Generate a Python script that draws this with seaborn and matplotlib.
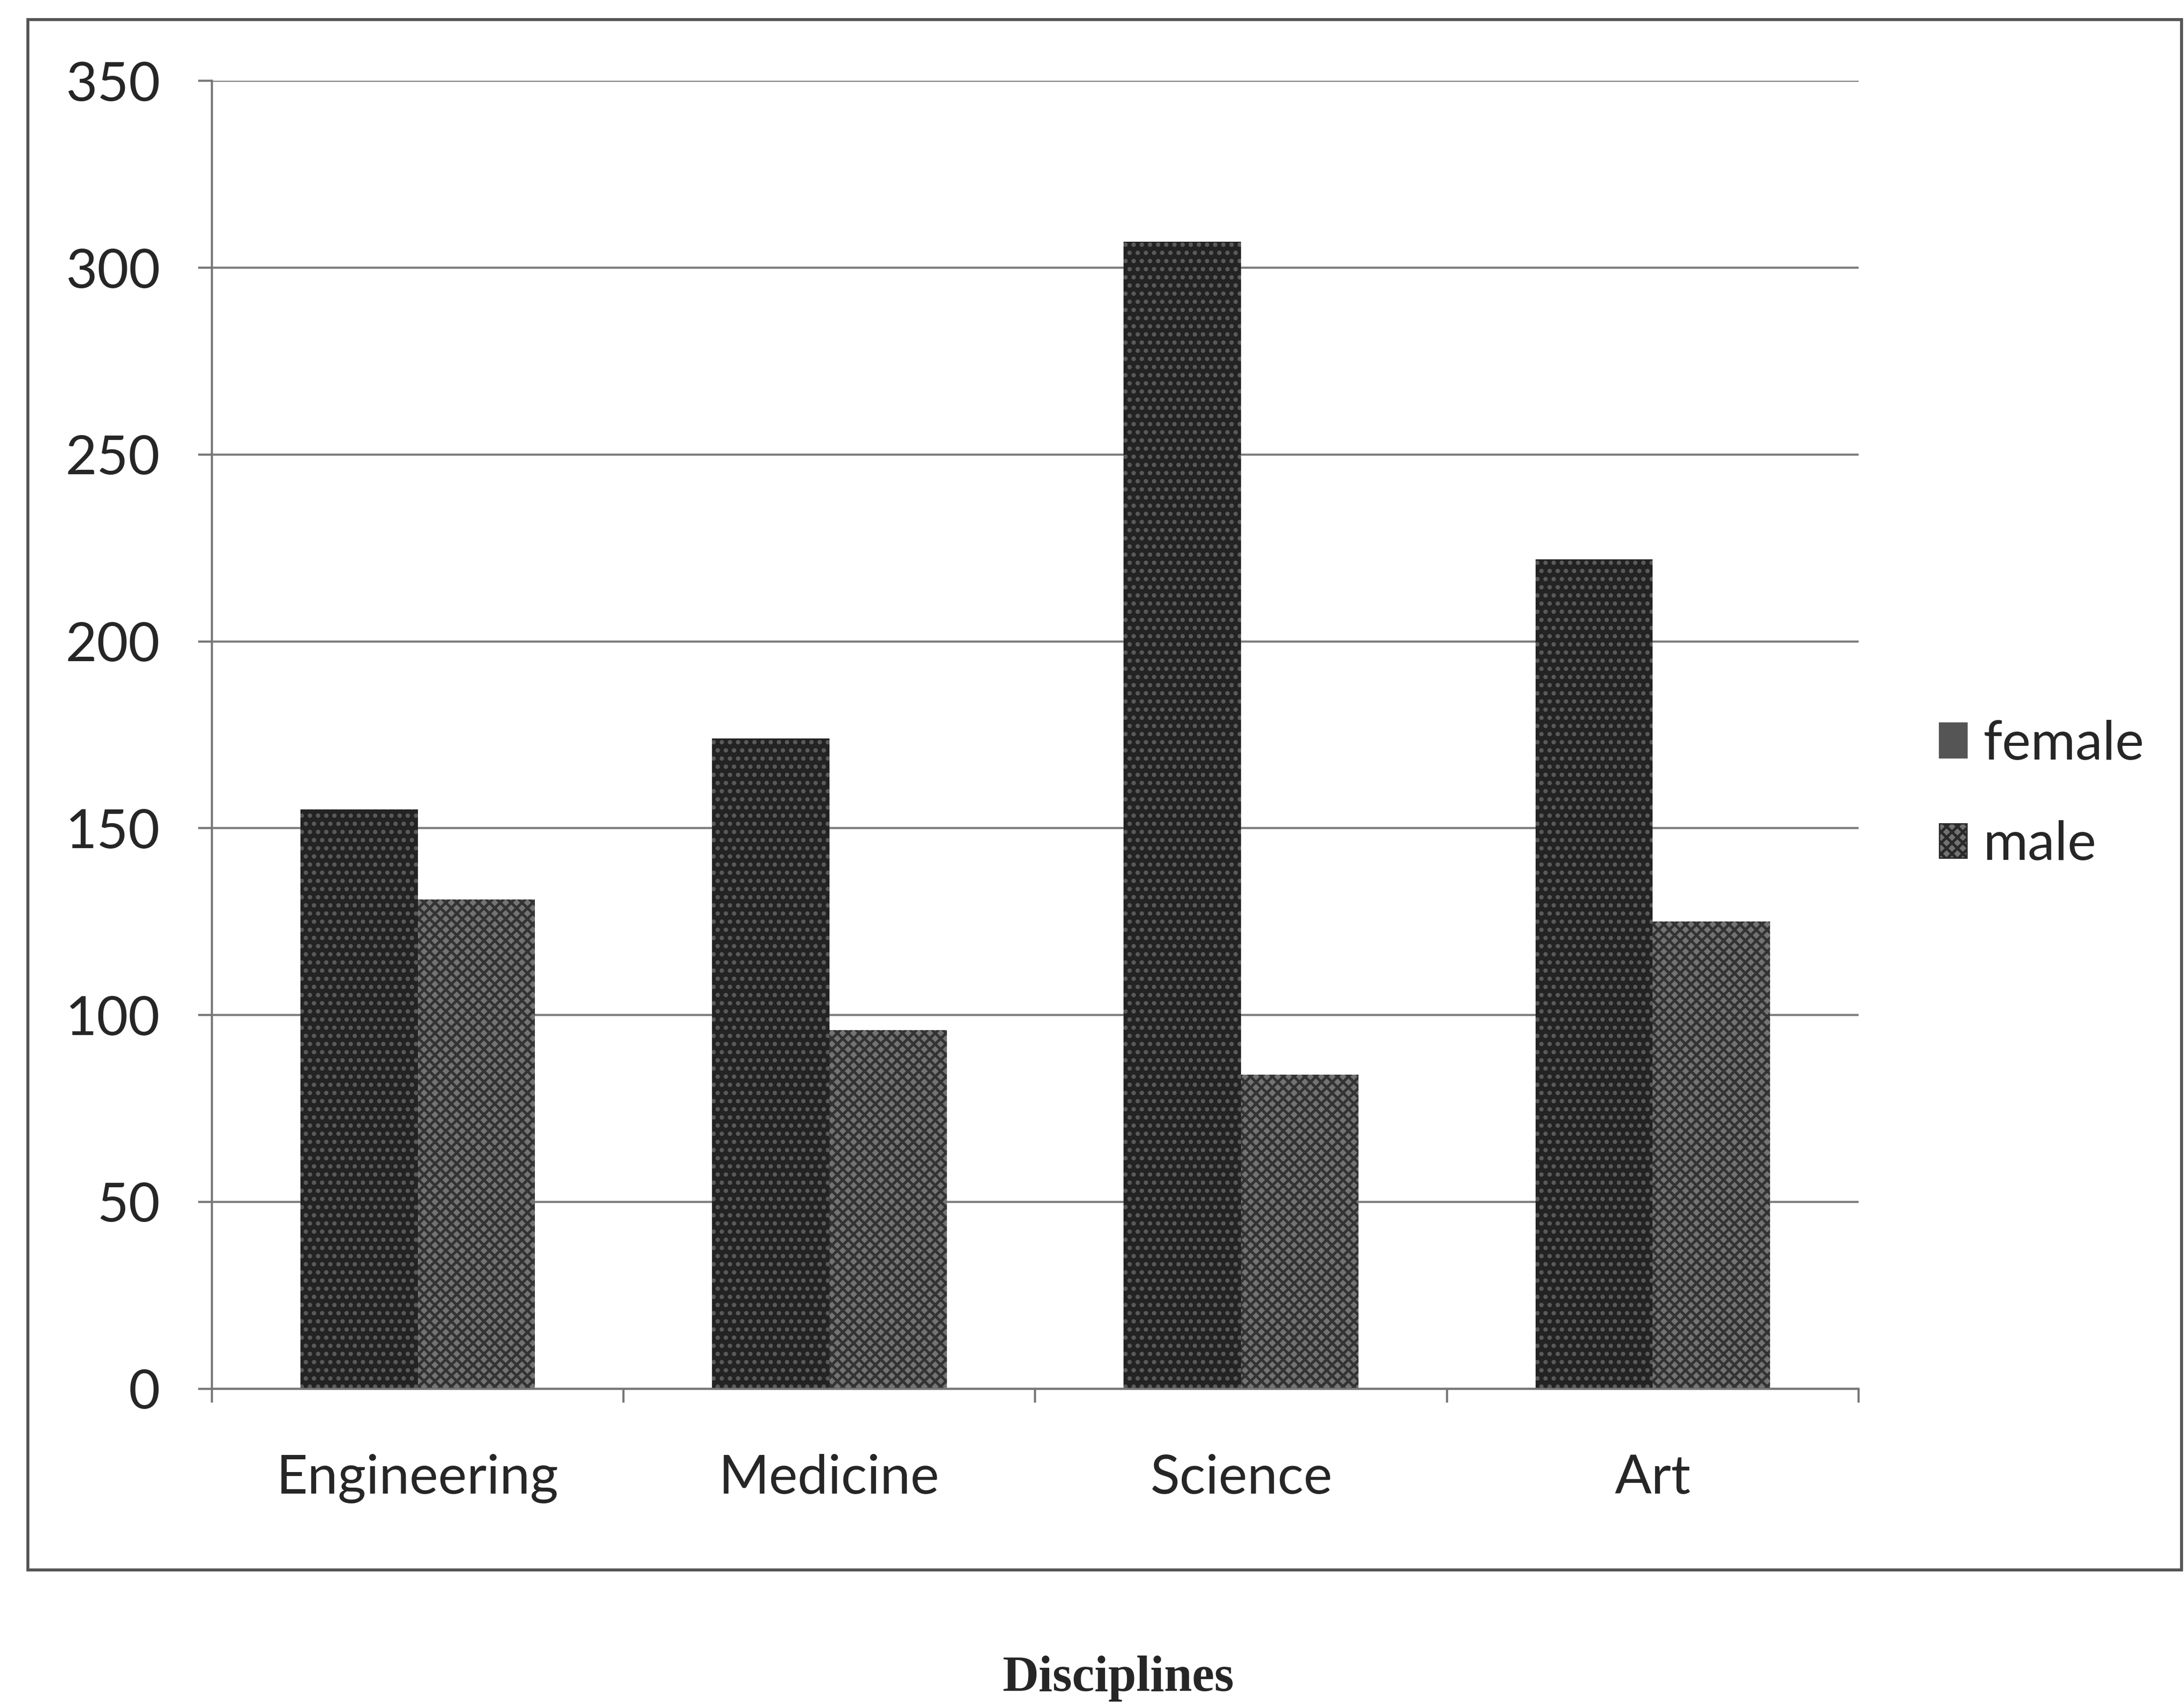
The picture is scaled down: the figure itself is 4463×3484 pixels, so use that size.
import numpy as np
import pandas as pd
import matplotlib
matplotlib.use("Agg")
import matplotlib.pyplot as plt
import seaborn as sns
from matplotlib.patches import Patch, Rectangle

# data
disciplines = ["Engineering", "Medicine", "Science", "Art"]
female = [155, 174, 307, 222]
male = [131, 96, 84, 125]
y_ticks = [0, 50, 100, 150, 200, 250, 300, 350]

df = pd.DataFrame({
    "discipline": disciplines * 2,
    "count": female + male,
    "sex": ["female"] * len(disciplines) + ["male"] * len(disciplines),
})

sns.set_style("white")
plt.rcParams["font.family"] = ["Lato", "DejaVu Sans"]
plt.rcParams["hatch.linewidth"] = 2.0

fig = plt.figure(figsize=(22.315, 17.42), dpi=200)
ax = fig.add_axes([0.097, 0.1855, 0.754, 0.767])

sns.barplot(data=df, x="discipline", y="count", hue="sex",
            palette=["#232323", "#737373"], width=0.57, gap=0,
            legend=False, ax=ax, linewidth=0)

# textures similar to the printed fills
for bar in ax.containers[0]:
    bar.set_hatch("..")
    bar.set_edgecolor("#5a5a5a")
for bar in ax.containers[1]:
    bar.set_hatch("xxx")
    bar.set_edgecolor("#333333")

ax.set_ylim(0, 350)
ax.set_xlim(-0.5, 3.5)
ax.set_yticks(y_ticks)
ax.yaxis.grid(True, color="#7d7d7d", linewidth=1.6)
ax.set_axisbelow(True)

for side in ["top", "right"]:
    ax.spines[side].set_visible(False)
ax.spines["left"].set_color("#777777")
ax.spines["bottom"].set_color("#777777")
ax.spines["left"].set_linewidth(1.6)
ax.spines["bottom"].set_linewidth(1.6)

ax.set_xlabel("")
ax.set_ylabel("")
ax.tick_params(axis="y", which="major", length=10, width=1.6, color="#777777",
               labelsize=40, pad=28, left=True)
ax.tick_params(axis="x", which="major", length=0, labelsize=40, pad=48)
ax.set_xticks(np.arange(-0.5, 4.0, 1.0), minor=True)
ax.tick_params(axis="x", which="minor", length=10, width=1.6, color="#777777",
               bottom=True)

handles = [
    Patch(facecolor="#555555", edgecolor="#555555", label="female"),
    Patch(facecolor="#737373", edgecolor="#2a2a2a", hatch="xxx", label="male"),
]
fig.legend(handles=handles, loc="center left", bbox_to_anchor=(0.888, 0.534),
           frameon=False, fontsize=40, handlelength=0.5, handleheight=0.6,
           handletextpad=0.3, labelspacing=0.95, borderaxespad=0,
           borderpad=0)

# outer chart frame
fig.patches.append(Rectangle((0.0128, 0.0792), 0.986, 0.9094,
                             transform=fig.transFigure, fill=False,
                             edgecolor="#555555", linewidth=2.2))

fig.text(0.512, 0.002, "Disciplines", ha="center", va="bottom",
         fontsize=37, fontweight="bold", family="Liberation Serif")

fig.savefig("out.png", dpi=200)
